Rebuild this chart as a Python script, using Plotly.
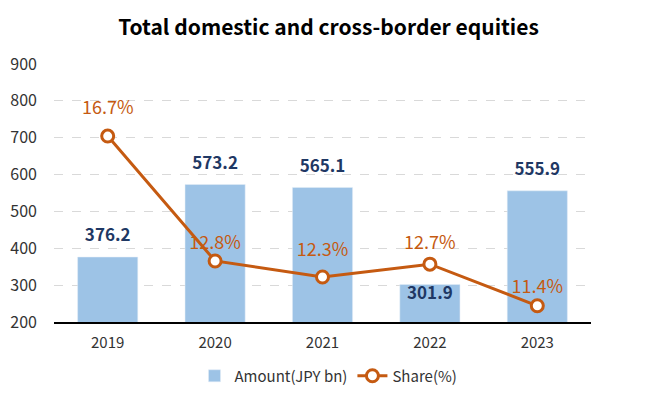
import plotly.graph_objects as go

years = ["2019", "2020", "2021", "2022", "2023"]
amount = [376.2, 573.2, 565.1, 301.9, 555.9]
share = [16.7, 12.8, 12.3, 12.7, 11.4]
amount_labels = ["376.2", "573.2", "565.1", "301.9", "555.9"]
share_labels = ["16.7%", "12.8%", "12.3%", "12.7%", "11.4%"]
y_ticks = [200, 300, 400, 500, 600, 700, 800, 900]

FONT = "Noto Sans CJK JP"
BAR_C = "#9DC3E6"
LINE_C = "#C55A11"
NAVY = "#1F3864"

# label placement (style only): bar labels outside except the short 2022 bar
bar_inside = [v < 320 for v in amount]
bar_lbl_pos = ["bottom center" if ins else "top center" for ins in bar_inside]
bar_lbl_pad = [2 if ins else 17 for ins in bar_inside]
share_lbl_pad = [26, 10, 25, 15, 12]

fig = go.Figure()
fig.add_trace(go.Bar(
    x=years, y=amount, name="Amount(JPY bn)", marker_color=BAR_C,
    width=0.56, hoverinfo="skip",
))
fig.add_trace(go.Scatter(
    x=years, y=share, name="Share(%)", yaxis="y2", mode="lines+markers",
    cliponaxis=False, hoverinfo="skip",
    line=dict(color=LINE_C, width=3),
    marker=dict(symbol="circle", size=12, color="white",
                line=dict(color=LINE_C, width=3)),
))
# bar value labels
fig.add_trace(go.Scatter(
    x=years, y=amount, mode="markers+text", showlegend=False, hoverinfo="skip",
    text=["<b>" + t + "</b>" for t in amount_labels], textposition=bar_lbl_pos,
    cliponaxis=False,
    textfont=dict(family=FONT, size=17, color=NAVY),
    marker=dict(size=bar_lbl_pad, opacity=0),
))
# share labels
fig.add_trace(go.Scatter(
    x=years, y=share, yaxis="y2", mode="markers+text", showlegend=False,
    hoverinfo="skip", text=share_labels, textposition="top center",
    cliponaxis=False,
    textfont=dict(family=FONT, size=18, color=LINE_C),
    marker=dict(size=share_lbl_pad, opacity=0),
))

fig.update_layout(
    width=657, height=395,
    margin=dict(l=54, r=66, t=64, b=73, autoexpand=False),
    paper_bgcolor="white", plot_bgcolor="white",
    title=dict(text="<b>Total domestic and cross-border equities</b>",
               x=0.5, xanchor="center", y=0.93, yanchor="middle",
               font=dict(family=FONT, size=21, color="#000000")),
    font=dict(family=FONT, size=14, color="#333333"),
    xaxis=dict(type="category", showline=True, linecolor="#000000", linewidth=1.5,
               ticks="", automargin=False, ticklabelstandoff=6,
               tickfont=dict(size=15, color="#333333")),
    yaxis=dict(range=[200, 900], tickvals=y_ticks, showgrid=True,
               gridcolor="#D9D9D9", griddash="dash", gridwidth=1,
               automargin=False, ticklabelstandoff=16,
               zeroline=False, ticks="", tickfont=dict(size=16, color="#333333")),
    yaxis2=dict(range=[10.894, 18.95], overlaying="y", side="right",
                visible=False, showgrid=False),
    legend=dict(orientation="h", x=0.5, xanchor="center", xref="container",
                y=0.048, yanchor="middle", yref="container",
                font=dict(size=15, color="#333333")),
    showlegend=True,
)

fig.write_html("out.html", config={"displayModeBar": False},
               post_script="document.body.style.margin='0';")
